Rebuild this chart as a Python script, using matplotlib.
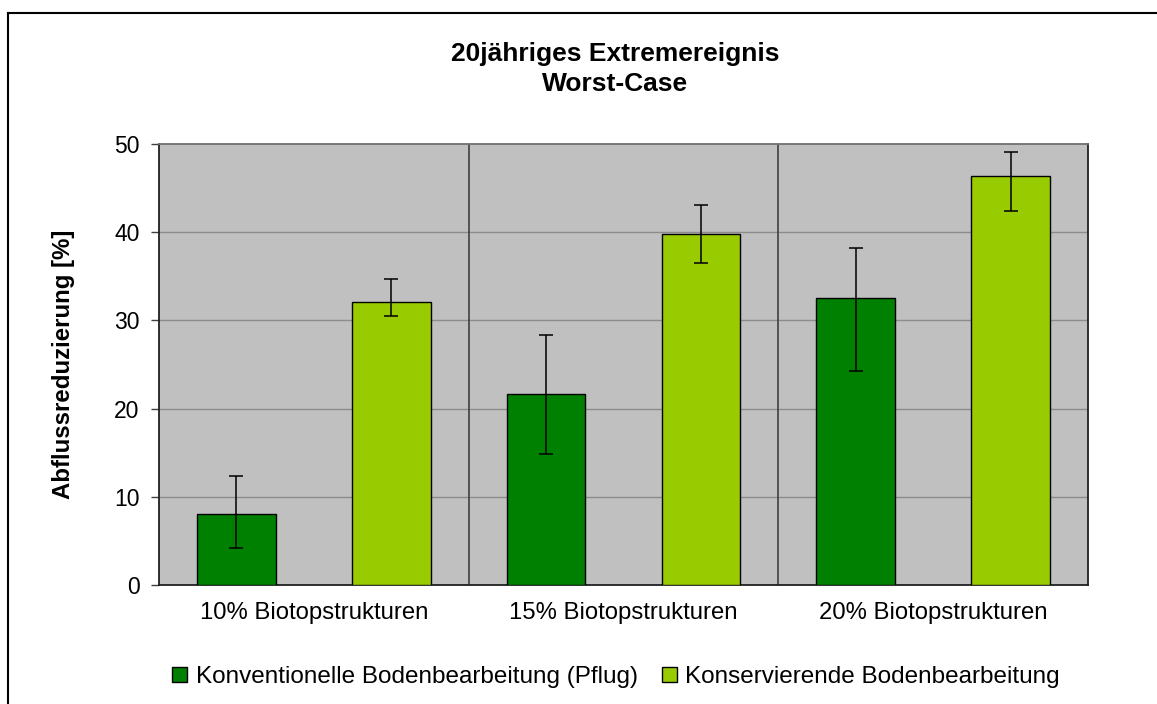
import matplotlib
matplotlib.use("Agg")
import matplotlib.pyplot as plt
from matplotlib.lines import Line2D
from matplotlib.patches import Patch
import numpy as np

categories = ["10% Biotopstrukturen", "15% Biotopstrukturen", "20% Biotopstrukturen"]
series_names = ["Konventionelle Bodenbearbeitung (Pflug)", "Konservierende Bodenbearbeitung"]
konventionell = [8.1, 21.6, 32.5]
konv_err_low = [3.9, 6.7, 8.2]
konv_err_high = [4.3, 6.7, 5.7]
konservierend = [32.1, 39.8, 46.4]
kons_err_low = [1.6, 3.3, 4.0]
kons_err_high = [2.6, 3.3, 2.7]
yticks = [0, 10, 20, 30, 40, 50]
title = "20jähriges Extremereignis\nWorst-Case"
ylabel = "Abflussreduzierung [%]"

W, H = 1157, 704
plt.rcParams['font.family'] = ['Liberation Sans', 'DejaVu Sans']
fig = plt.figure(figsize=(W / 100, H / 100), dpi=100)
fig.patch.set_facecolor("white")

left, right, top, bottom = 159, 1088, 144, 585
ax = fig.add_axes([left / W, 1 - bottom / H, (right - left) / W, (bottom - top) / H])
ax.set_facecolor("#C0C0C0")

x = np.arange(len(categories))
bw = 0.254
ekw = dict(ecolor="black", elinewidth=1.1, capsize=5, capthick=1.1)
ax.bar(x + 0.25, konventionell, width=bw, color="#008000", edgecolor="black", linewidth=1,
       yerr=[konv_err_low, konv_err_high], error_kw=ekw, zorder=3, label=series_names[0])
ax.bar(x + 0.75, konservierend, width=bw, color="#99CC00", edgecolor="black", linewidth=1,
       yerr=[kons_err_low, kons_err_high], error_kw=ekw, zorder=3, label=series_names[1])

ax.set_xlim(0, len(categories))
ax.set_ylim(0, 50)
ax.set_yticks(yticks)
ax.set_yticklabels([str(v) for v in yticks], fontsize=16.5)
ax.set_xticks(x + 0.5)
ax.set_xticklabels(categories, fontsize=17.2)
ax.tick_params(axis="x", length=0, pad=12)
ax.tick_params(axis="y", length=6, width=1, color="#404040", pad=8)

for v in yticks[1:-1]:
    ax.axhline(v, color="#8C8C8C", linewidth=1, zorder=1)
for c in range(1, len(categories)):
    ax.axvline(c, color="#404040", linewidth=1.2, zorder=1)

for s in ["left", "bottom", "right"]:
    ax.spines[s].set_color("#202020")
    ax.spines[s].set_linewidth(1.3)
ax.spines["top"].set_color("#707070")
ax.spines["top"].set_linewidth(1.3)

ax.set_ylabel(ylabel, fontsize=17.3, fontweight="bold", labelpad=28)

fig.text(615 / W, 1 - 69 / H, title, ha="center", va="center", fontsize=19,
         fontweight="bold", linespacing=1.35)

handles = [Patch(facecolor="#008000", edgecolor="black", linewidth=1),
           Patch(facecolor="#99CC00", edgecolor="black", linewidth=1)]
fig.legend(handles, series_names, loc="center", bbox_to_anchor=(616 / W, 1 - 677 / H),
           ncol=2, frameon=False, fontsize=17.5, handlelength=0.62, handleheight=0.62,
           handletextpad=0.35, columnspacing=1.0)

# chart area border (left and top visible)
fig.add_artist(Line2D([8 / W, 8 / W], [0, 1 - 12.5 / H], transform=fig.transFigure,
                      color="black", linewidth=1.5))
fig.add_artist(Line2D([8 / W, 1], [1 - 12.5 / H, 1 - 12.5 / H], transform=fig.transFigure,
                      color="black", linewidth=1.5))

fig.savefig("out.png", dpi=100)
